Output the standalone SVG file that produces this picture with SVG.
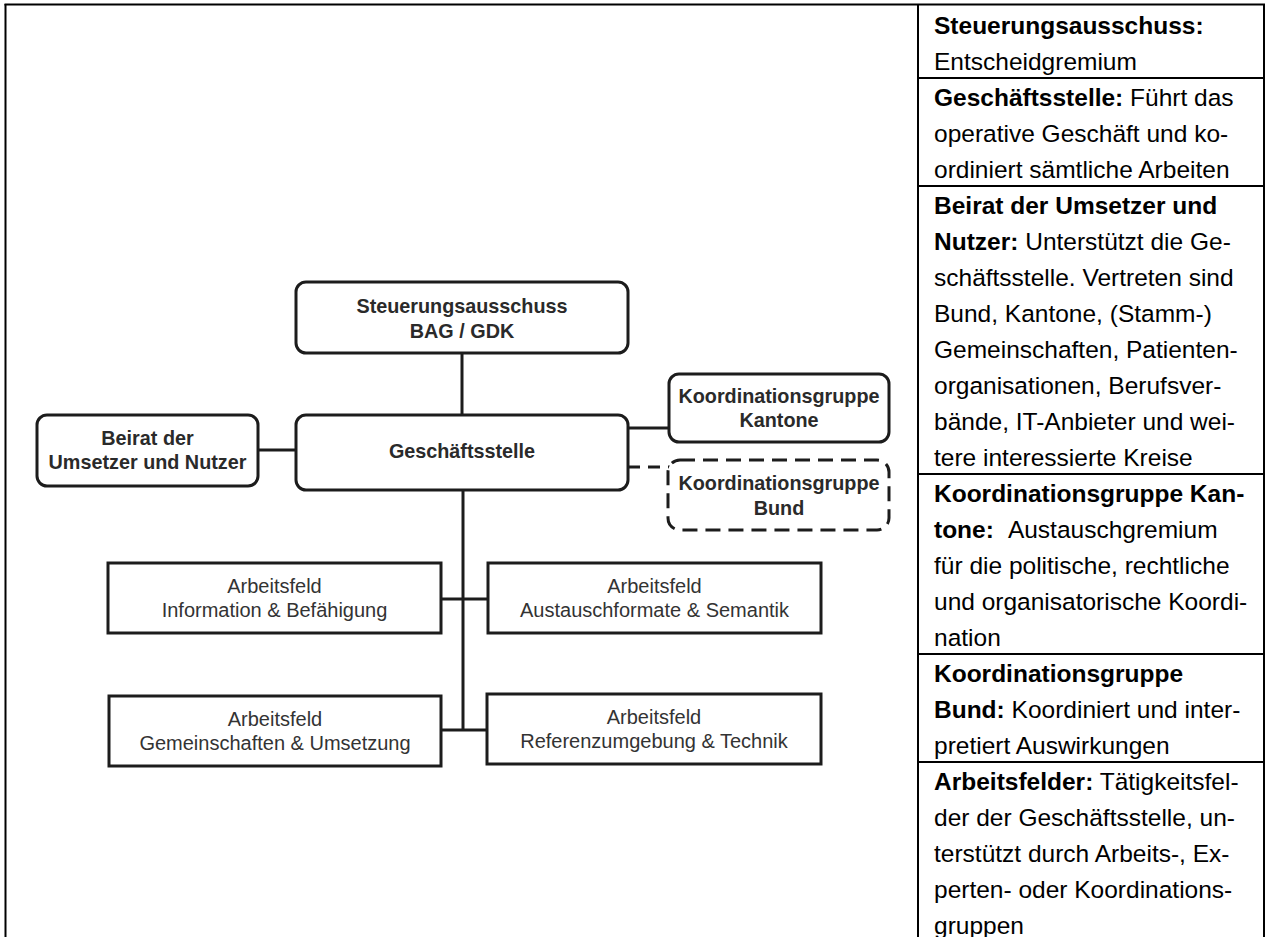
<svg xmlns="http://www.w3.org/2000/svg" width="1271" height="937" viewBox="0 0 1271 937">
  <style>
    .frame { stroke: #000; stroke-width: 2; fill: none; }
    .box { fill: #fff; stroke: #1c1c1c; stroke-width: 3; }
    .dashed { fill: #fff; stroke: #1c1c1c; stroke-width: 3; stroke-dasharray: 15 8; }
    .wire { stroke: #1c1c1c; stroke-width: 3; fill: none; }
    .wire-dash { stroke: #1c1c1c; stroke-width: 3; fill: none; stroke-dasharray: 12 8; }
    .lbl { font-family: "Liberation Sans", Arial, sans-serif; font-size: 19.8px; font-weight: bold; fill: #2a2a2a; text-anchor: middle; }
    .field { font-family: "Liberation Sans", Arial, sans-serif; font-size: 20px; fill: #333; text-anchor: middle; }
    .legend { font-family: "Liberation Sans", Arial, sans-serif; font-size: 24.5px; fill: #000; }
    .b { font-weight: bold; }
  </style>

  <rect width="1271" height="937" fill="#fff"/>

  <!-- page frame and legend column -->
  <g id="frame" class="frame">
    <line x1="4.5" y1="4.5" x2="1265" y2="4.5"/>
    <line x1="5.5" y1="4" x2="5.5" y2="937"/>
    <line x1="918" y1="4" x2="918" y2="937"/>
    <line x1="1264" y1="4" x2="1264" y2="937"/>
    <line x1="918" y1="78" x2="1264" y2="78"/>
    <line x1="918" y1="186" x2="1264" y2="186"/>
    <line x1="918" y1="474" x2="1264" y2="474"/>
    <line x1="918" y1="654" x2="1264" y2="654"/>
    <line x1="918" y1="762" x2="1264" y2="762"/>
  </g>

  <!-- connectors -->
  <g id="connectors">
    <line class="wire" x1="462" y1="353" x2="462" y2="415"/>
    <line class="wire" x1="258" y1="450" x2="296" y2="450"/>
    <line class="wire" x1="628" y1="428" x2="669" y2="428"/>
    <line class="wire-dash" x1="628" y1="467" x2="670" y2="467"/>
    <line class="wire" x1="463" y1="490" x2="463" y2="731"/>
    <line class="wire" x1="441" y1="599" x2="488" y2="599"/>
    <line class="wire" x1="441" y1="730" x2="487" y2="730"/>
  </g>

  <g id="steuerungsausschuss">
    <rect class="box" x="296" y="282" width="332" height="71" rx="10"/>
    <text class="lbl" x="462" y="313">Steuerungsausschuss</text>
    <text class="lbl" x="462" y="338">BAG / GDK</text>
  </g>

  <g id="geschaeftsstelle">
    <rect class="box" x="296" y="415" width="332" height="75" rx="10"/>
    <text class="lbl" x="462" y="458">Geschäftsstelle</text>
  </g>

  <g id="beirat">
    <rect class="box" x="37" y="415" width="221" height="71" rx="10"/>
    <text class="lbl" x="147.5" y="445">Beirat der</text>
    <text class="lbl" x="147.5" y="469">Umsetzer und Nutzer</text>
  </g>

  <g id="kg-kantone">
    <rect class="box" x="669" y="374" width="220" height="68" rx="10"/>
    <text class="lbl" x="779" y="403">Koordinationsgruppe</text>
    <text class="lbl" x="779" y="427">Kantone</text>
  </g>

  <g id="kg-bund">
    <rect class="dashed" x="668" y="460" width="221" height="70" rx="12"/>
    <text class="lbl" x="779" y="490">Koordinationsgruppe</text>
    <text class="lbl" x="779" y="515">Bund</text>
  </g>

  <g id="af-information">
    <rect class="box" x="108" y="563" width="333" height="70"/>
    <text class="field" x="274.5" y="593">Arbeitsfeld</text>
    <text class="field" x="274.5" y="617">Information &amp; Befähigung</text>
  </g>

  <g id="af-austauschformate">
    <rect class="box" x="488" y="563" width="333" height="70"/>
    <text class="field" x="654.5" y="593">Arbeitsfeld</text>
    <text class="field" x="654.5" y="617">Austauschformate &amp; Semantik</text>
  </g>

  <g id="af-gemeinschaften">
    <rect class="box" x="109" y="696" width="332" height="70"/>
    <text class="field" x="275" y="726">Arbeitsfeld</text>
    <text class="field" x="275" y="750">Gemeinschaften &amp; Umsetzung</text>
  </g>

  <g id="af-referenzumgebung">
    <rect class="box" x="487" y="694" width="334" height="70"/>
    <text class="field" x="654" y="724">Arbeitsfeld</text>
    <text class="field" x="654" y="748">Referenzumgebung &amp; Technik</text>
  </g>

  <!-- legend text, one line every 36px -->
  <g id="legend" class="legend">
    <text x="934" y="34"><tspan class="b">Steuerungsausschuss:</tspan></text>
    <text x="934" y="70">Entscheidgremium</text>
    <text x="934" y="106"><tspan class="b">Geschäftsstelle:</tspan> Führt das</text>
    <text x="934" y="142">operative Geschäft und ko-</text>
    <text x="934" y="178">ordiniert sämtliche Arbeiten</text>
    <text x="934" y="214"><tspan class="b">Beirat der Umsetzer und</tspan></text>
    <text x="934" y="250"><tspan class="b">Nutzer:</tspan> Unterstützt die Ge-</text>
    <text x="934" y="286">schäftsstelle. Vertreten sind</text>
    <text x="934" y="322">Bund, Kantone, (Stamm-)</text>
    <text x="934" y="358">Gemeinschaften, Patienten-</text>
    <text x="934" y="394">organisationen, Berufsver-</text>
    <text x="934" y="430">bände, IT-Anbieter und wei-</text>
    <text x="934" y="466">tere interessierte Kreise</text>
    <text x="934" y="502"><tspan class="b">Koordinationsgruppe Kan-</tspan></text>
    <text x="934" y="538"><tspan class="b">tone:</tspan><tspan dx="14">Austauschgremium</tspan></text>
    <text x="934" y="574">für die politische, rechtliche</text>
    <text x="934" y="610">und organisatorische Koordi-</text>
    <text x="934" y="646">nation</text>
    <text x="934" y="682"><tspan class="b">Koordinationsgruppe</tspan></text>
    <text x="934" y="718"><tspan class="b">Bund:</tspan> Koordiniert und inter-</text>
    <text x="934" y="754">pretiert Auswirkungen</text>
    <text x="934" y="790"><tspan class="b">Arbeitsfelder:</tspan> Tätigkeitsfel-</text>
    <text x="934" y="826">der der Geschäftsstelle, un-</text>
    <text x="934" y="862">terstützt durch Arbeits-, Ex-</text>
    <text x="934" y="898">perten- oder Koordinations-</text>
    <text x="934" y="934">gruppen</text>
  </g>
</svg>
